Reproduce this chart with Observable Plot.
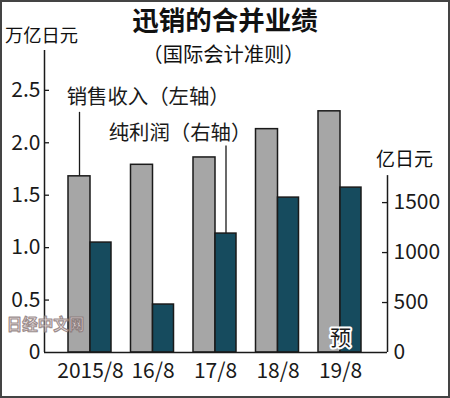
<!DOCTYPE html>
<html>
<head>
<meta charset="utf-8">
<script src="https://cdn.jsdelivr.net/npm/d3@7"></script>
<script src="https://cdn.jsdelivr.net/npm/@observablehq/plot@0.6"></script>
<style>
  html, body { margin: 0; padding: 0; background: #fff; }
  #wrap { position: relative; width: 450px; height: 398px; overflow: hidden; font-family: "Noto Sans CJK SC", "Noto Sans", sans-serif; color: #111; }
  #wrap svg { position: absolute; left: 0; top: 0; }
  .t { position: absolute; line-height: 1; white-space: nowrap; }
  #title { left: 0; width: 450px; text-align: center; top: 5.5px; font-size: 26.5px; font-weight: bold; }
  #subtitle { left: 0; width: 447px; text-align: center; top: 42.5px; font-size: 20.3px; }
  #unitL { left: 5px; top: 25px; font-size: 18.3px; }
  #unitR { left: 376px; top: 148px; font-size: 19px; }
  #border { position: absolute; left: 0; top: 0; width: 450px; height: 398px; box-sizing: border-box; border: 2px solid #444; pointer-events: none; }
</style>
</head>
<body>
<div id="wrap"></div>
<script>
// ---- data ----
const years = ["2015/8", "16/8", "17/8", "18/8", "19/8"];
const revenue = [1.68, 1.79, 1.86, 2.13, 2.30];     // 销售收入, 万亿日元 (left axis)
const profit = [1100, 480, 1190, 1550, 1650];         // 纯利润, 亿日元 (right axis)
const leftTicks = [0, 0.5, 1.0, 1.5, 2.0, 2.5];
const rightTicks = [0, 500, 1000, 1500];
const title = "迅销的合并业绩";
const subtitle = "（国际会计准则）";
const unitLeft = "万亿日元";
const unitRight = "亿日元";
const revenueLabel = "销售收入（左轴）";
const profitLabel = "纯利润（右轴）";
const forecastLabel = "预";
const watermark = "日经中文网";

// ---- scale setup ----
const k = 0.000953;            // 亿日元 -> left-axis units (right axis scale)
const xDom = [-0.736, 4.752];
const yTop = 2.88;
const rightAxisTop = 1770;     // 亿日元, top of the right axis line
const tl = 0.08;               // tick length in x units
const gw = 0.352, tw = 0.336;  // bar widths in x units

const rows = years.map((year, i) => ({year, i, revenue: revenue[i], profit: profit[i] * k}));

const ink = "#1a1a1a";
const plot = Plot.plot({
  width: 450,
  height: 398,
  marginLeft: 44,
  marginRight: 63,
  marginTop: 50,
  marginBottom: 46,
  style: {fontFamily: '"Noto Sans CJK SC", "Noto Sans", sans-serif', color: ink, background: "transparent"},
  x: {type: "linear", domain: xDom, axis: null},
  y: {domain: [0, yTop], axis: null},
  marks: [
    // bars
    Plot.rect(rows, {x1: d => d.i - gw, x2: d => d.i, y1: 0, y2: "revenue", fill: "#a6a6a6", stroke: ink, strokeWidth: 1.5}),
    Plot.rect(rows, {x1: d => d.i, x2: d => d.i + tw, y1: 0, y2: "profit", fill: "#164b5e", stroke: ink, strokeWidth: 1.5}),
    // axis lines
    Plot.ruleX([xDom[0]], {y1: 0, y2: yTop, stroke: ink, strokeWidth: 1.5}),
    Plot.ruleX([xDom[1]], {y1: 0, y2: rightAxisTop * k, stroke: ink, strokeWidth: 1.5}),
    Plot.ruleY([0], {x1: xDom[0], x2: xDom[1], stroke: ink, strokeWidth: 1.5}),
    // tick marks (inward)
    Plot.ruleY(leftTicks.filter(t => t > 0), {y: d => d, x1: xDom[0], x2: xDom[0] + tl, stroke: ink, strokeWidth: 1.3}),
    Plot.ruleY(rightTicks.filter(t => t > 0), {y: d => d * k, x1: xDom[1] - tl, x2: xDom[1], stroke: ink, strokeWidth: 1.3}),
    // tick labels
    Plot.axisY(leftTicks, {anchor: "left", tickSize: 0, tickPadding: 4, fontSize: 21, label: null,
      tickFormat: d => d === 0 ? "0" : d.toFixed(1)}),
    Plot.axisY(rightTicks.map(t => t * k), {anchor: "right", tickSize: 0, tickPadding: 6, fontSize: 21, label: null,
      tickFormat: d => String(Math.round(d / k))}),
    Plot.axisX(d3.range(years.length), {anchor: "bottom", tickSize: 0, tickPadding: 11, fontSize: 21, label: null,
      tickFormat: i => years[i]}),
    // leader lines
    Plot.ruleX([rows[0]], {x: d => d.i - gw / 2, y1: "revenue", y2: 2.29, stroke: ink, strokeWidth: 1.3}),
    Plot.ruleX([rows[2]], {x: d => d.i + tw / 2, y1: "profit", y2: 1.97, stroke: ink, strokeWidth: 1.3}),
    // series labels
    Plot.text([revenueLabel], {x: -gw - 0.03, y: 2.43, text: d => d, textAnchor: "start", fontSize: 20.4, fill: ink}),
    Plot.text([profitLabel], {x: 0.29, y: 2.09, text: d => d, textAnchor: "start", fontSize: 20.4, fill: ink}),
    // forecast mark
    Plot.text([rows[4]], {x: "i", y: 0.14, text: () => forecastLabel, fontSize: 21, fill: ink, stroke: "white", strokeWidth: 4, paintOrder: "stroke"}),
    // watermark
    Plot.text([watermark], {x: -0.72, y: 0.258, text: d => d, fontSize: 15.5, fontWeight: "bold", fill: "#e4d8d8", stroke: "#8c7a7a", strokeWidth: 1.1, paintOrder: "fill", opacity: 0.85})
  ]
});

const wrap = document.getElementById("wrap");
wrap.appendChild(plot);
for (const [id, txt] of [["title", title], ["subtitle", subtitle], ["unitL", unitLeft], ["unitR", unitRight]]) {
  const d = document.createElement("div");
  d.className = "t"; d.id = id; d.textContent = txt;
  wrap.appendChild(d);
}
const b = document.createElement("div"); b.id = "border"; wrap.appendChild(b);
</script>
</body>
</html>
